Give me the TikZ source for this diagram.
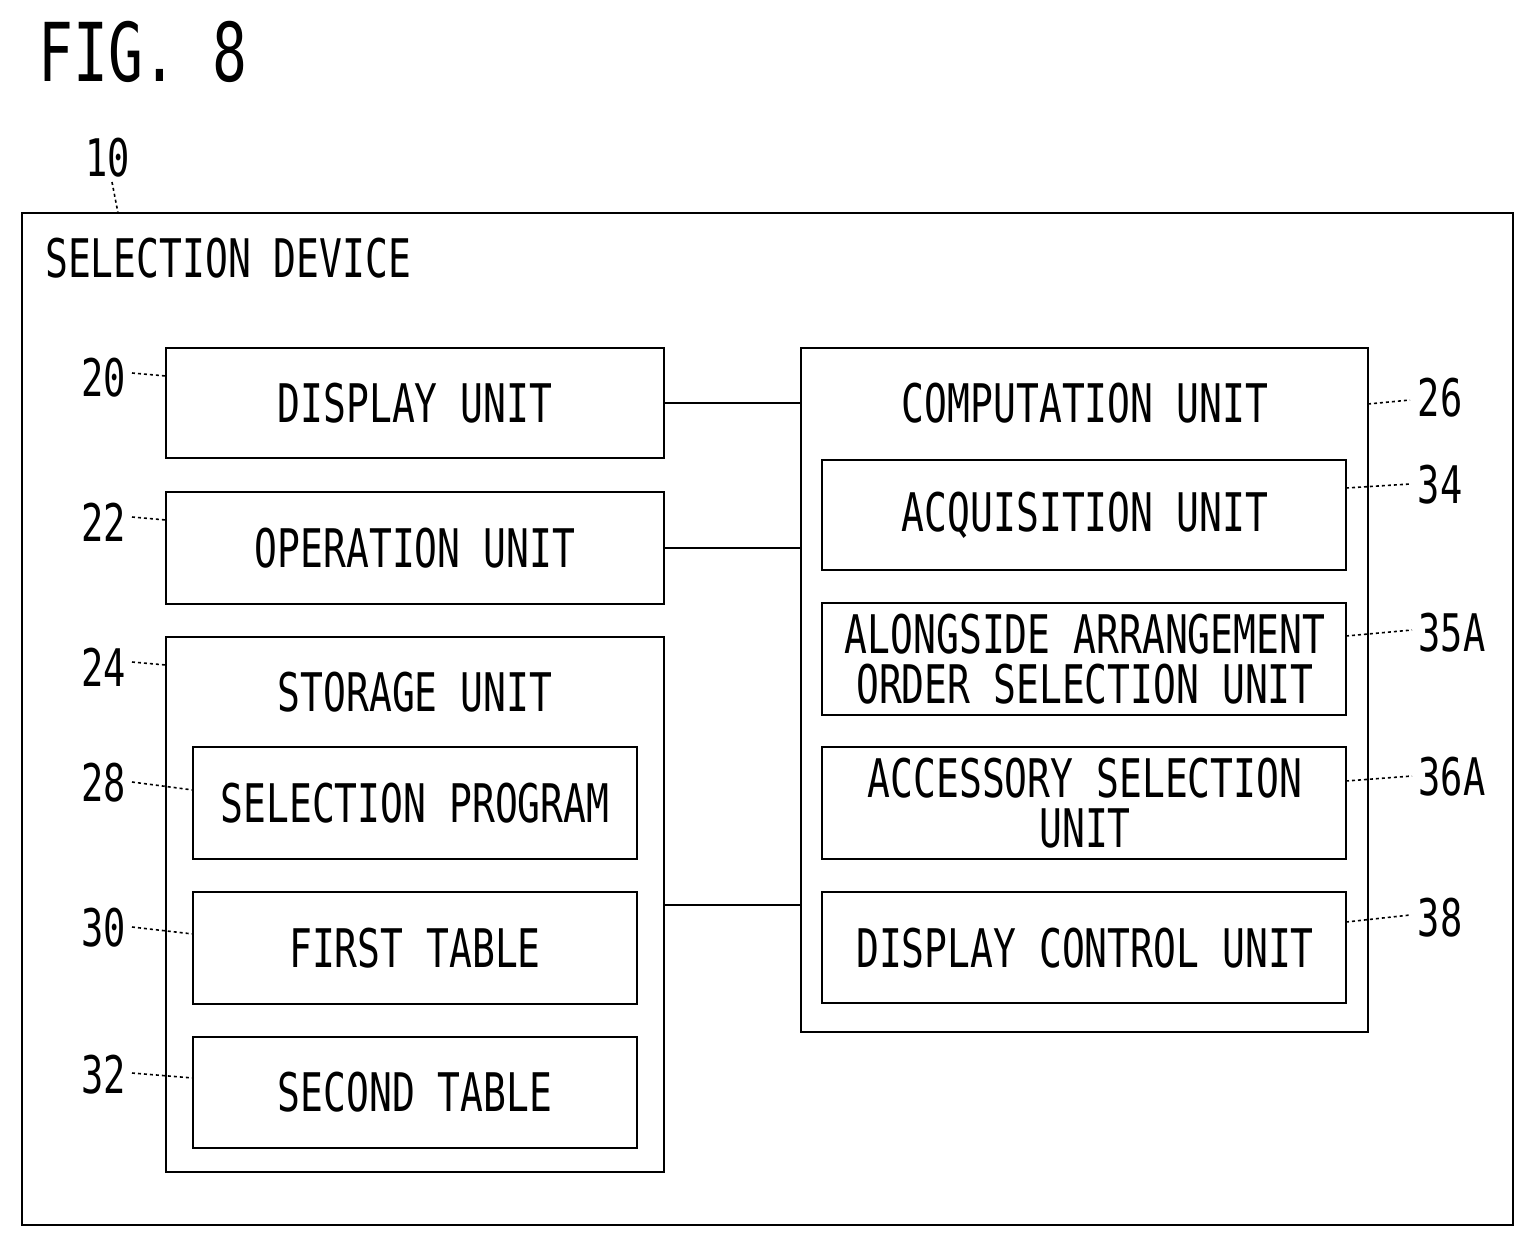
\documentclass[tikz,border=0pt]{standalone}
\usepackage{fontspec}
\setmainfont{DejaVu Sans Mono}
\newcommand\Tx[1]{\scalebox{1}[1.4]{#1}}
\begin{document}
\begin{tikzpicture}[x=1pt,y=-1pt,
  box/.style={draw,line width=2.4pt},
  lab/.style={font=\fontsize{38}{44}\selectfont,inner sep=0},
  num/.style={font=\fontsize{37}{44}\selectfont,inner sep=0},
  lead/.style={line width=1.6pt,dash pattern=on 3pt off 3pt},
  con/.style={line width=2.4pt}]
\useasboundingbox (0,0) rectangle (1536,1248);
\node[font=\fontsize{58}{70}\selectfont,anchor=west,inner sep=0] (fig) at (38,52) {\scalebox{1}[1.4]{FIG. 8}};
\draw[box] (22,213) rectangle (1513,1225);
\node[num] (n10) at (108,158) {\Tx{10}};
\draw[lead] (112,182) -- (118,213);
\node[lab,anchor=west] (sd) at (45,258) {\Tx{SELECTION DEVICE}};
% left
\draw[box] (166,348) rectangle (664,458);
\node[lab] (du) at (415,403) {\Tx{DISPLAY UNIT}};
\draw[box] (166,492) rectangle (664,604);
\node[lab] (ou) at (415,548) {\Tx{OPERATION UNIT}};
\draw[box] (166,637) rectangle (664,1172);
\node[lab] (su) at (415,692) {\Tx{STORAGE UNIT}};
\draw[box] (193,747) rectangle (637,859);
\node[lab] (sp) at (415,803) {\Tx{SELECTION PROGRAM}};
\draw[box] (193,892) rectangle (637,1004);
\node[lab] (ft) at (415,948) {\Tx{FIRST TABLE}};
\draw[box] (193,1037) rectangle (637,1148);
\node[lab] (st) at (415,1092) {\Tx{SECOND TABLE}};
% right
\draw[box] (801,348) rectangle (1368,1032);
\node[lab] (cu) at (1085,403) {\Tx{COMPUTATION UNIT}};
\draw[box] (822,460) rectangle (1346,570);
\node[lab] (au) at (1085,515) {\Tx{ACQUISITION UNIT}};
\draw[box] (822,603) rectangle (1346,715);
\node[lab,align=center] (al) at (1085,659) {\Tx{ALONGSIDE ARRANGEMENT}\\[6pt]\Tx{ORDER SELECTION UNIT}};
\draw[box] (822,747) rectangle (1346,859);
\node[lab,align=center] (ac) at (1085,803) {\Tx{ACCESSORY SELECTION}\\[6pt]\Tx{UNIT}};
\draw[box] (822,892) rectangle (1346,1003);
\node[lab] (dc) at (1085,948) {\Tx{DISPLAY CONTROL UNIT}};
% connectors
\draw[con] (664,403) -- (801,403);
\draw[con] (664,548) -- (801,548);
\draw[con] (664,905) -- (801,905);
% numbers
\node[num] (n20) at (104,378) {\Tx{20}}; \draw[lead] (132,373) -- (166,376);
\node[num] (n22) at (104,522) {\Tx{22}}; \draw[lead] (132,517) -- (166,520);
\node[num] (n24) at (104,667) {\Tx{24}}; \draw[lead] (132,662) -- (166,665);
\node[num] (n28) at (104,783) {\Tx{28}}; \draw[lead] (132,782) -- (193,790);
\node[num] (n30) at (104,928) {\Tx{30}}; \draw[lead] (132,927) -- (193,934);
\node[num] (n32) at (104,1075) {\Tx{32}}; \draw[lead] (132,1073) -- (193,1078);
\node[num] (n26) at (1440,398) {\Tx{26}}; \draw[lead] (1368,404) -- (1410,400);
\node[num] (n34) at (1440,485) {\Tx{34}}; \draw[lead] (1346,488) -- (1410,484);
\node[num] (n35) at (1452,633) {\Tx{35A}}; \draw[lead] (1346,636) -- (1412,630);
\node[num] (n36) at (1452,777) {\Tx{36A}}; \draw[lead] (1346,781) -- (1412,776);
\node[num] (n38) at (1440,918) {\Tx{38}}; \draw[lead] (1346,922) -- (1410,915);
\end{tikzpicture}
\end{document}
